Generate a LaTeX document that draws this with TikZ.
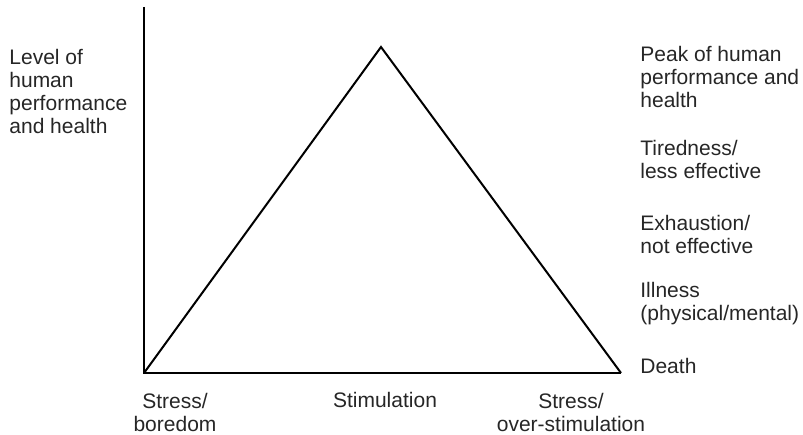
\documentclass[tikz,border=0pt]{standalone}
\usepackage{fontspec}
\setmainfont{Liberation Sans}

\begin{document}
\begin{tikzpicture}[x=0.5pt,y=0.5pt,
  lbl/.style={font=\fontsize{10.5}{11.5}\selectfont,text=black!85,inner sep=0pt},
  lft/.style={lbl,align=left,anchor=west},
  ctr/.style={lbl,align=center}]
\useasboundingbox (0,0) rectangle (803,434);
\coordinate (top) at (144,427);
\coordinate (O) at (144,61);
\coordinate (R) at (621,61);
\coordinate (peak) at (381,387);
\draw[line width=1pt] (top) -- (O) -- (R);
\draw[line width=1pt,line join=miter] (O) -- (peak) -- (R);
\node[lft] (level) at (9,343) {Level of\\human\\performance\\and health};
\node[lft] (best) at (640,357) {Peak of human\\performance and\\health};
\node[lft] (tired) at (640,275) {Tiredness/\\less effective};
\node[lft] (exhaust) at (640,200) {Exhaustion/\\not effective};
\node[lft] (ill) at (640,130) {Illness\\(physical/mental)};
\node[lft] (death) at (640,68) {Death};
\node[ctr] (bored) at (175,22) {Stress/\\boredom};
\node[ctr] (stim) at (385,34) {Stimulation};
\node[ctr] (over) at (571,22) {Stress/\\over-stimulation};
\end{tikzpicture}
\end{document}
